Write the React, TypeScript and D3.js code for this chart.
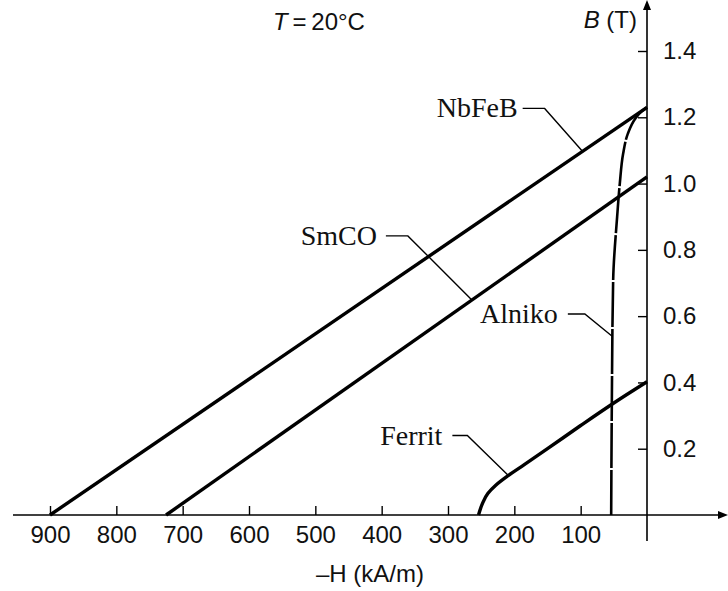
import React, { useEffect, useRef } from 'react';
import * as d3 from 'd3';

// demagnetisation curves, H in kA/m (plotted as -H), B in tesla
const nbfeb: [number, number][] = [[900, 0], [0, 1.23]];
const smco: [number, number][] = [[725, 0], [0, 1.02]];
const alniko: [number, number][] = [
  [54, 0], [53, 0.34], [51, 0.71], [45, 0.9], [41, 1.0], [36, 1.09],
  [29, 1.15], [18, 1.195], [8, 1.218], [0, 1.23],
];
const ferrit: [number, number][] = [
  [254, 0], [248, 0.035], [240, 0.065], [228, 0.09], [210, 0.118],
  [185, 0.152], [150, 0.2], [100, 0.27], [50, 0.338], [0, 0.402],
];

const hTicks = [900, 800, 700, 600, 500, 400, 300, 200, 100];
const bTicks = [0.2, 0.4, 0.6, 0.8, 1.0, 1.2, 1.4];

// label name, point on curve (H, B), elbow offset in px
const notes = [
  { name: 'NbFeB', h: 97, b: 1.097, dx: -38, dy: -43, len: 22, gap: 5 },
  { name: 'SmCO', h: 264, b: 0.649, dx: -64, dy: -64, len: 22, gap: 9 },
  { name: 'Alniko', h: 53, b: 0.54, dx: -27, dy: -22, len: 17, gap: 10 },
  { name: 'Ferrit', h: 209, b: 0.119, dx: -41, dy: -40, len: 15, gap: 10 },
];

export default function App() {
  const ref = useRef<SVGSVGElement>(null);

  useEffect(() => {
    const width = 728;
    const height = 591;
    const svg = d3.select(ref.current).attr('width', width).attr('height', height);
    svg.selectAll('*').remove();

    const x = d3.scaleLinear().domain([900, 0]).range([50, 647]);
    const y = d3.scaleLinear().domain([0, 1.4]).range([515, 51]);
    const sans = 'Liberation Sans, Arial, sans-serif';

    // x axis, ticks pointing up
    svg.append('g')
      .attr('transform', `translate(0,${y(0)})`)
      .call(d3.axisBottom(x).tickValues(hTicks).tickFormat(d3.format('d'))
        .tickSizeInner(-9).tickSizeOuter(0).tickPadding(11))
      .call(g => g.select('.domain').remove())
      .call(g => g.selectAll('.tick line').attr('stroke', '#000').attr('stroke-width', 1.4))
      .call(g => g.selectAll('.tick text').attr('fill', '#111')
        .attr('font-family', sans).attr('font-size', 24));

    // y axis, ticks pointing left, labels right
    svg.append('g')
      .attr('transform', `translate(${x(0)},0)`)
      .call(d3.axisRight(y).tickValues(bTicks).tickFormat(d3.format('.1f'))
        .tickSizeInner(-9).tickSizeOuter(0).tickPadding(16))
      .call(g => g.select('.domain').remove())
      .call(g => g.selectAll('.tick line').attr('stroke', '#000').attr('stroke-width', 1.4))
      .call(g => g.selectAll('.tick text').attr('fill', '#111')
        .attr('font-family', sans).attr('font-size', 24));

    // axis lines with arrows
    svg.append('line').attr('x1', 13).attr('x2', 722).attr('y1', y(0)).attr('y2', y(0))
      .attr('stroke', '#000').attr('stroke-width', 1.6);
    svg.append('path').attr('d', `M728,${y(0)}L718,${y(0) - 4}L718,${y(0) + 4}Z`).attr('fill', '#000');
    svg.append('line').attr('x1', x(0)).attr('x2', x(0)).attr('y1', 541).attr('y2', 6)
      .attr('stroke', '#000').attr('stroke-width', 1.6);
    svg.append('path').attr('d', `M${x(0)},0L${x(0) - 4},10L${x(0) + 4},10Z`).attr('fill', '#000');

    const line = d3.line<[number, number]>()
      .x(d => x(d[0]))
      .y(d => y(d[1]));

    svg.append('path').datum(nbfeb).attr('d', line)
      .attr('fill', 'none').attr('stroke', '#000').attr('stroke-width', 3.4);
    svg.append('path').datum(smco).attr('d', line)
      .attr('fill', 'none').attr('stroke', '#000').attr('stroke-width', 3.4);
    svg.append('path').datum(alniko).attr('d', line.curve(d3.curveMonotoneY))
      .attr('fill', 'none').attr('stroke', '#000').attr('stroke-width', 2.6)
      .attr('stroke-dasharray', '45 2');
    svg.append('path').datum(ferrit).attr('d', line.curve(d3.curveMonotoneY))
      .attr('fill', 'none').attr('stroke', '#000').attr('stroke-width', 3.4);

    // callouts
    notes.forEach(n => {
      const ex = x(n.h);
      const ey = y(n.b);
      const kx = ex + n.dx;
      const ky = ey + n.dy;
      svg.append('path')
        .attr('d', `M${kx - n.len},${ky}L${kx},${ky}L${ex},${ey}`)
        .attr('fill', 'none').attr('stroke', '#000').attr('stroke-width', 1.4);
      svg.append('text')
        .attr('x', kx - n.len - n.gap).attr('y', ky + 9)
        .attr('text-anchor', 'end')
        .attr('font-family', 'Liberation Serif, Times New Roman, serif')
        .attr('font-size', 28).attr('fill', '#111')
        .text(n.name);
    });

    // axis titles
    const bt = svg.append('text').attr('x', 637).attr('y', 28).attr('text-anchor', 'end')
      .attr('font-family', sans).attr('font-size', 24).attr('fill', '#111');
    bt.append('tspan').attr('font-style', 'italic').text('B');
    bt.append('tspan').text(' (T)');

    svg.append('text').attr('x', 370).attr('y', 582).attr('text-anchor', 'middle')
      .attr('font-family', sans).attr('font-size', 24).attr('fill', '#111')
      .text('\u2013H (kA/m)');

    const tt = svg.append('text').attr('x', 273).attr('y', 30)
      .attr('font-family', sans).attr('font-size', 24).attr('fill', '#111');
    tt.append('tspan').attr('font-style', 'italic').text('T');
    tt.append('tspan').text('\u2009=\u200920\u00b0C');
  }, []);

  return (
    <svg ref={ref} style={{ position: 'absolute', left: 0, top: 0, background: '#fff' }}></svg>
  );
}
